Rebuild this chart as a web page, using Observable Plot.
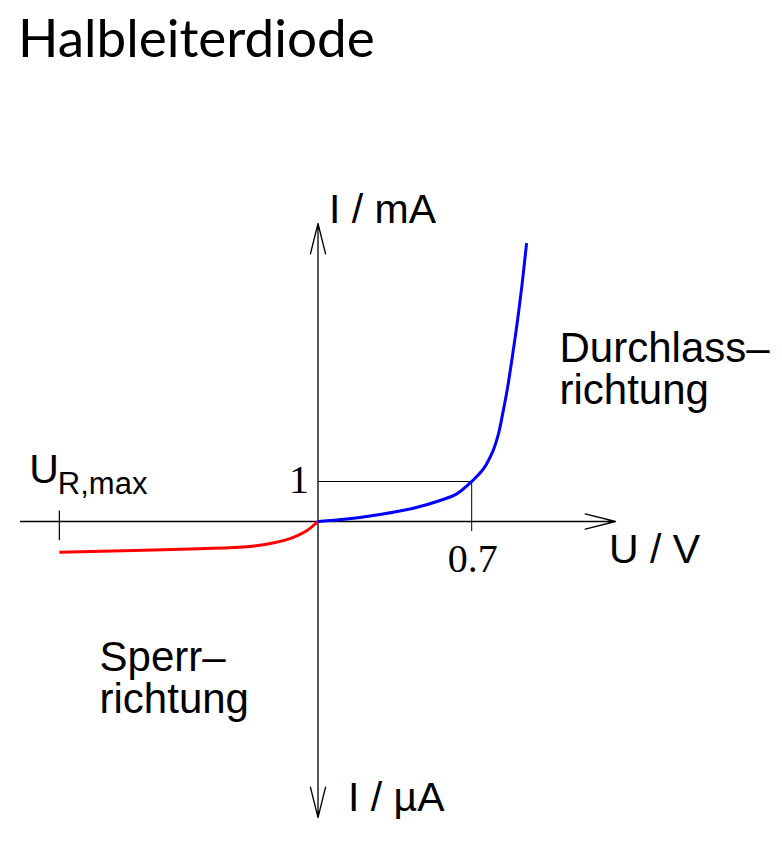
<!DOCTYPE html>
<html><head><meta charset="utf-8">
<script src="https://cdn.jsdelivr.net/npm/d3@7"></script>
<script src="https://cdn.jsdelivr.net/npm/@observablehq/plot@0.6"></script>
<style>
html,body{margin:0;padding:0;background:#fff;}
#title{height:80px;box-sizing:border-box;padding:10px 0 0 18px;font:53px/1 Lato, sans-serif;color:#000;white-space:nowrap;}
#chart svg{display:block;}
</style></head>
<body>
<div id="title"></div>
<div id="chart"></div>
<script>
const title = "Halbleiterdiode";
// Forward branch (Durchlassrichtung): U in V, I in mA
const forwardU = [0, 0.131, 0.282, 0.434, 0.556, 0.632, 0.70, 0.755, 0.798, 0.821, 0.841, 0.862, 0.887, 0.908, 0.928, 0.950];
const forwardI = [0, 0.06, 0.175, 0.33, 0.525, 0.69, 1.0, 1.33, 1.78, 2.17, 2.69, 3.3, 4.19, 5.0, 5.86, 6.96];
// Reverse branch (Sperrrichtung): U in V (schematic), I in µA
const reverseU = [-1.178, -0.84, -0.54, -0.31, -0.19, -0.11, -0.05, 0];
const reverseI = [-0.77, -0.725, -0.68, -0.625, -0.52, -0.39, -0.225, 0];
// Reference point
const kneeU = 0.7, kneeI = 1;
const kneeLabels = ["0.7", "1"];
// Reverse breakdown voltage mark
const URmax = -1.178;
const URmaxLabel = ["U", "R,max"];
// Axis extents and labels
const axisU = [-1.355, 1.355];
const axisI = [-7.4, 7.45];
const axisLabels = ["U / V", "I / mA", "I / µA"];
// Region labels
const regionLabels = ["Durchlass–\nrichtung", "Sperr–\nrichtung"];
const regionU = [1.1, -0.995];
const regionI = [2.94, -4.79];

document.getElementById("title").textContent = title;

const forward = forwardU.map((u, i) => ({U: u, I: forwardI[i]}));
const reverse = reverseU.map((u, i) => ({U: u, I: reverseI[i]}));
const axes = [
  {x1: axisU[0], y1: 0, x2: axisU[1], y2: 0},
  {x1: 0, y1: 0, x2: 0, y2: axisI[1]},
  {x1: 0, y1: 0, x2: 0, y2: axisI[0]}
];
const regions = regionLabels.map((t, i) => ({t, U: regionU[i], I: regionI[i]}));

const sans = "Liberation Sans, Arial, Helvetica, sans-serif";
const serif = "Liberation Serif, Times New Roman, serif";

const chart = Plot.plot({
  width: 782,
  height: 766,
  marginLeft: 20,
  marginRight: 167,
  marginTop: 143,
  marginBottom: 29,
  x: {domain: axisU, axis: null},
  y: {domain: axisI, axis: null},
  style: {background: "white", overflow: "visible"},
  marks: [
    // guide lines to the reference point
    Plot.ruleY([kneeI], {x1: 0, x2: kneeU, stroke: "black", strokeWidth: 1}),
    Plot.ruleX([kneeU], {y1: -0.25, y2: kneeI, stroke: "black", strokeWidth: 1}),
    // U_R,max tick
    Plot.ruleX([URmax], {y1: -0.48, y2: 0.26, stroke: "black", strokeWidth: 1.2}),
    // axes with arrow heads
    Plot.arrow(axes, {x1: "x1", y1: "y1", x2: "x2", y2: "y2", stroke: "black", strokeWidth: 1.3, headLength: 36, headAngle: 28}),
    // curves
    Plot.line(reverse, {x: "U", y: "I", stroke: "#ff0000", strokeWidth: 3, curve: "monotone-x", strokeLinecap: "butt"}),
    Plot.line(forward, {x: "U", y: "I", stroke: "#0000ff", strokeWidth: 3, curve: "catmull-rom", strokeLinecap: "butt"}),
    // knee labels
    Plot.text([kneeLabels[0]], {x: kneeU, y: 0, text: d => d, textAnchor: "middle", lineAnchor: "bottom", dx: 1, dy: 50, fontFamily: serif, fontSize: 40}),
    Plot.text([kneeLabels[1]], {x: 0, y: kneeI, text: d => d, textAnchor: "end", lineAnchor: "bottom", dx: -9, dy: 11, fontFamily: serif, fontSize: 40}),
    // U_R,max label
    Plot.text([URmaxLabel[0]], {x: URmax, y: 0, text: d => d, textAnchor: "end", lineAnchor: "bottom", dx: -0.5, dy: -39, fontFamily: sans, fontSize: 41}),
    Plot.text([URmaxLabel[1]], {x: URmax, y: 0, text: d => d, textAnchor: "start", lineAnchor: "bottom", dx: -1.5, dy: -28, fontFamily: sans, fontSize: 31}),
    // axis labels
    Plot.text([axisLabels[0]], {x: axisU[1], y: 0, text: d => d, textAnchor: "start", lineAnchor: "bottom", dx: -6.5, dy: 41, fontFamily: sans, fontSize: 41}),
    Plot.text([axisLabels[1]], {x: 0, y: axisI[1], text: d => d, textAnchor: "start", lineAnchor: "bottom", dx: 11, dy: -1, fontFamily: sans, fontSize: 41}),
    Plot.text([axisLabels[2]], {x: 0, y: axisI[0], text: d => d, textAnchor: "start", lineAnchor: "bottom", dx: 30, dy: -7, fontFamily: sans, fontSize: 41}),
    // region labels
    Plot.text(regions, {x: "U", y: "I", text: "t", textAnchor: "start", lineAnchor: "bottom", lineHeight: 1.0, fontFamily: sans, fontSize: 42})
  ]
});
document.getElementById("chart").appendChild(chart);
</script>
</body></html>
